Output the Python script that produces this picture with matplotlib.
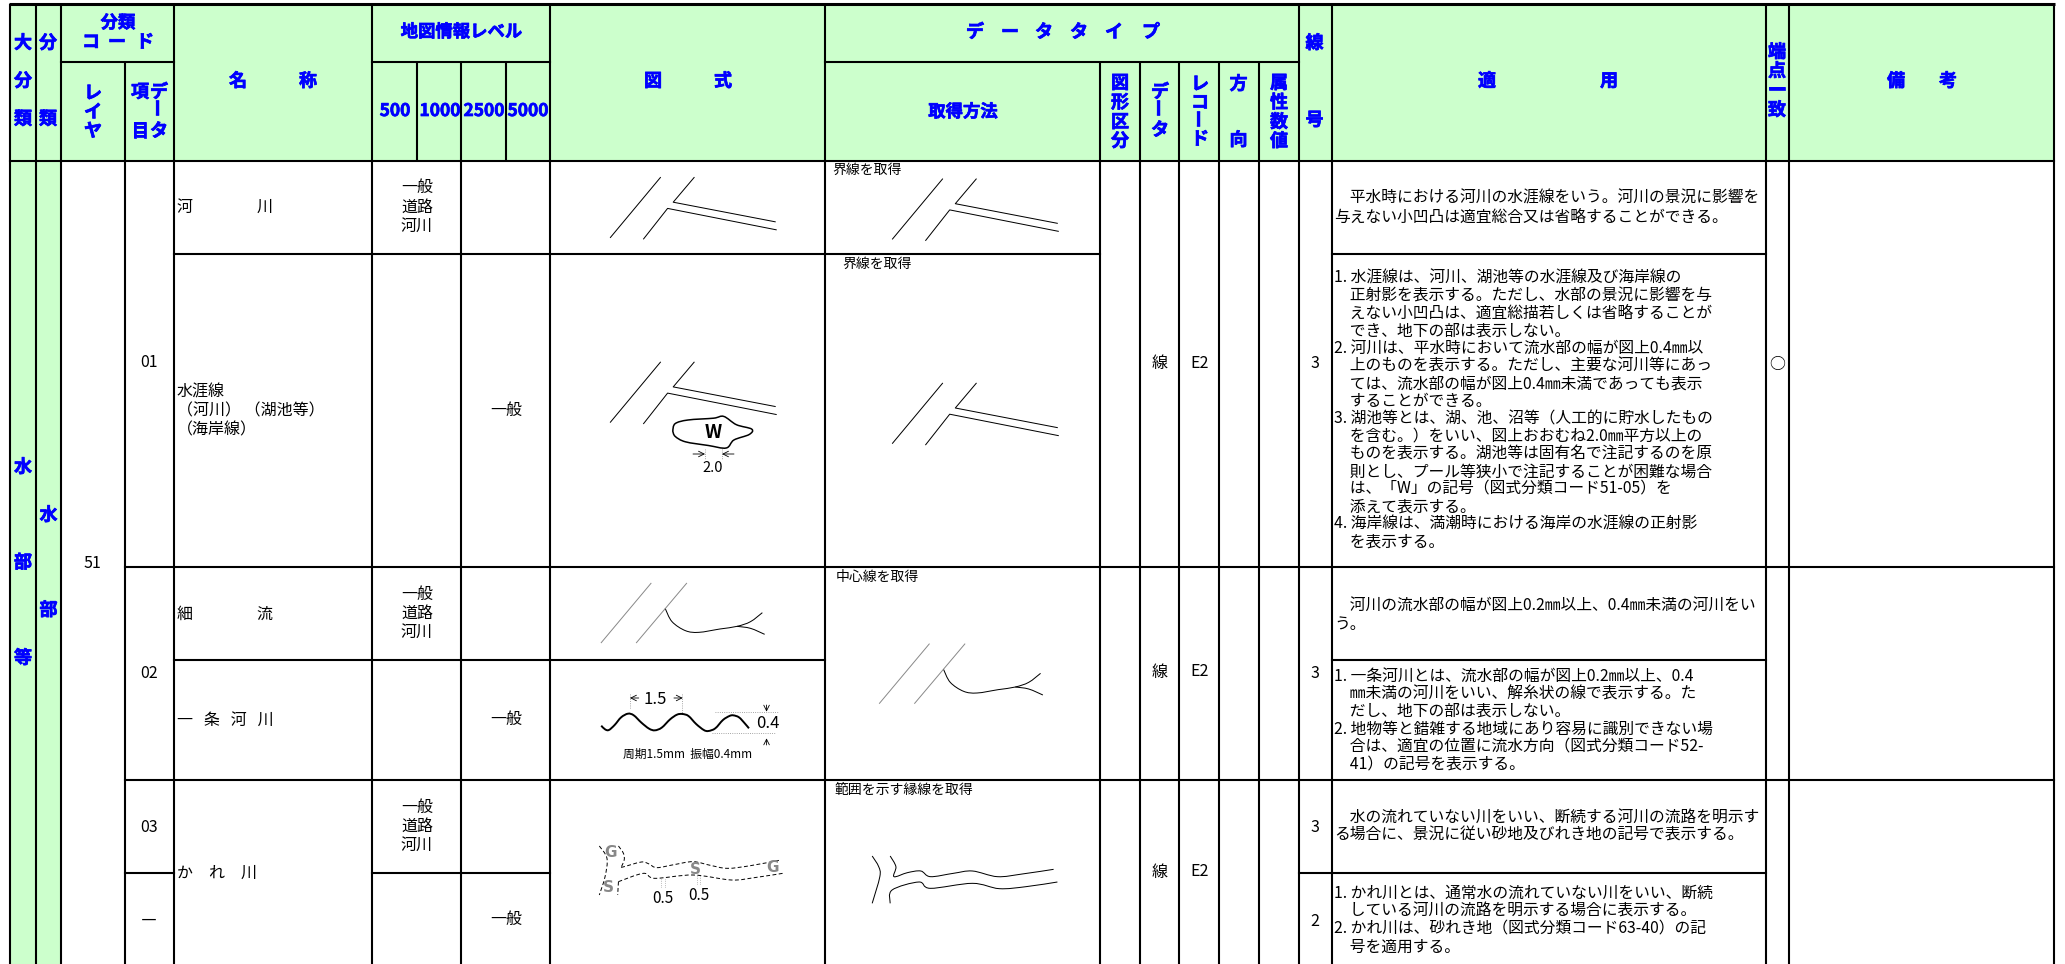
import matplotlib
matplotlib.use("Agg")
import matplotlib.pyplot as plt
import matplotlib.patheffects as pe
from matplotlib.patches import Rectangle, PathPatch
from matplotlib.path import Path
import numpy as np

plt.rcParams['font.family'] = ['Noto Sans CJK JP', 'DejaVu Sans']

W, H = 2065, 964
GREEN = '#CCFFCC'
BLUE = '#0000FF'
GRAY = '#888888'

# grid: (position, start, end)
v_lines = [(10, 4, 964), (36, 4, 964), (61, 4, 964), (125, 62, 964), (174, 4, 964),
           (372, 4, 964), (416.5, 62, 161), (461, 62, 964), (506, 62, 161), (550, 4, 964),
           (825, 4, 964), (1100, 62, 964), (1140, 62, 964), (1179, 62, 964), (1219, 62, 964),
           (1259, 62, 964), (1299, 4, 964), (1332, 4, 964), (1766, 4, 964), (1788.5, 4, 964),
           (2054, 4, 964)]
h_lines = [(62, 61, 174), (62, 372, 550), (62, 825, 1299), (161, 10, 2054),
           (253.5, 174, 1100), (253.5, 1332, 1766),
           (567, 125, 2054), (660, 174, 825), (660, 1332, 1766),
           (780, 125, 2054), (873, 125, 174), (873, 372, 550), (873, 1299, 1766)]

# header labels, one glyph group at a time
head_text = ['大', '分', '類', '分', '類', '分類', 'コ', 'ー', 'ド', 'レ', 'イ', 'ヤ', '項', '目', 'デ', 'タ',
             '名', '称', '地図情報レベル', '500', '1000', '2500', '5000', '図', '式',
             'デ', 'ー', 'タ', 'タ', 'イ', 'プ', '取得方法',
             '図', '形', '区', '分', 'デ', 'タ', 'レ', 'コ', 'ド', '方', '向',
             '属', '性', '数', '値', '線', '号', '適', '用', '端', '点', '一', '致', '備', '考',
             '水', '部', '等', '水', '部']
head_x = [23, 23, 23, 48, 48, 118, 91, 117, 145, 93, 93, 93, 140, 140, 159, 159,
          238, 308, 461.5, 395, 440, 484, 528, 653, 723,
          975, 1010, 1044, 1079, 1114, 1151, 963,
          1120, 1120, 1120, 1120, 1160, 1160, 1200, 1200, 1200, 1238.5, 1238.5,
          1279, 1279, 1279, 1279, 1314.5, 1314.5, 1487, 1609, 1777, 1777, 1777, 1777, 1896, 1948,
          23, 23, 23, 48.5, 48.5]
head_y = [43, 81, 119, 43, 119, 23, 42, 42, 42, 93, 112, 131, 92, 131, 92, 131,
          81, 81, 32, 111, 111, 111, 111, 81, 81,
          32, 32, 32, 32, 32, 32, 112,
          83, 102.5, 122, 141, 92, 130, 84, 102.5, 139, 84, 140,
          83, 102.5, 122, 141, 43, 120, 81, 81, 52, 71, 90, 110, 81, 81,
          467, 562.5, 658, 515, 610]
# long sound marks that stand upright in vertical headers
bar_x = [159, 1160, 1200]
bar_y = [108, 108, 119]

# body labels
body_text = ['51', '01', '02', '03', '―', '水涯線', '（河川） （湖池等）', '（海岸線）',
             '河　　　　川', '細　　　　流', '一   条   河   川', 'か　れ　川',
             '一般', '一般', '一般', '線', 'E2', '3', '線', 'E2', '3', '線', 'E2', '3', '2', '○']
body_x = [92.5, 149, 149, 149, 149, None, None, None,
          None, None, None, None,
          506.5, 506.5, 506.5, 1160, 1200, 1314.5, 1160, 1200, 1314.5, 1160, 1200, 1314.5, 1314.5, 1777]
body_y = [563.5, 362.5, 674, 827.5, 921, 392.5, 411, 430,
          207, 614, 720, 873,
          410, 719, 919, 363, 363, 363.5, 672, 672, 673, 872, 872, 828, 922, 364]

levels = ['一般', '道路', '河川']
level_y = [[187, 207, 226.5], [594, 613, 632], [807, 826, 845]]

method_text = ['界線を取得', '界線を取得', '中心線を取得', '範囲を示す縁線を取得']
method_x = [832, 842, 836, 835]
method_y = [170, 264, 577, 790]

note_1 = ['　平水時における河川の水涯線をいう。河川の景況に影響を',
          '与えない小凹凸は適宜総合又は省略することができる。']
note_2 = ['1. 水涯線は、河川、湖池等の水涯線及び海岸線の',
          '　正射影を表示する。ただし、水部の景況に影響を与',
          '　えない小凹凸は、適宜総描若しくは省略することが',
          '　でき、地下の部は表示しない。',
          '2. 河川は、平水時において流水部の幅が図上0.4㎜以',
          '　上のものを表示する。ただし、主要な河川等にあっ',
          '　ては、流水部の幅が図上0.4㎜未満であっても表示',
          '　することができる。',
          '3. 湖池等とは、湖、池、沼等（人工的に貯水したもの',
          '　を含む。）をいい、図上おおむね2.0㎜平方以上の',
          '　ものを表示する。湖池等は固有名で注記するのを原',
          '　則とし、プール等狭小で注記することが困難な場合',
          '　は、「W」の記号（図式分類コード51-05）を',
          '　添えて表示する。',
          '4. 海岸線は、満潮時における海岸の水涯線の正射影',
          '　を表示する。']
note_3 = ['　河川の流水部の幅が図上0.2㎜以上、0.4㎜未満の河川をい',
          'う。']
note_4 = ['1. 一条河川とは、流水部の幅が図上0.2㎜以上、0.4',
          '　㎜未満の河川をいい、解糸状の線で表示する。た',
          '　だし、地下の部は表示しない。',
          '2. 地物等と錯雑する地域にあり容易に識別できない場',
          '　合は、適宜の位置に流水方向（図式分類コード52-',
          '　41）の記号を表示する。']
note_5 = ['　水の流れていない川をいい、断続する河川の流路を明示す',
          'る場合に、景況に従い砂地及びれき地の記号で表示する。']
note_6 = ['1. かれ川とは、通常水の流れていない川をいい、断続',
          '　している河川の流路を明示する場合に表示する。',
          '2. かれ川は、砂れき地（図式分類コード63-40）の記',
          '　号を適用する。']
notes = [note_1, note_2, note_3, note_4, note_5, note_6]
note_top = [198.5, 278.5, 605.5, 676, 817, 893]
note_step = [18.5, 17.57, 18.5, 17.7, 18, 18]

road_1_x, road_1_y = [0, 50], [60, 0]
road_2_x, road_2_y = [33.2, 57.2, 165.8], [61.4, 30.9, 52.3]
road_3_x, road_3_y = [83.7, 62.8, 164.8], [0, 24.7, 44.3]
road_x0 = [610.4, 892.5, 610.4, 892.5]
road_y0 = [177.5, 179, 362.2, 383.3]

pond_x = [672.7, 675.2, 688, 713.5, 723.7, 736.4, 751.7, 749.2, 733.9, 726.2, 708.4, 685.4, 675.2, 672.7]
pond_y = [430.9, 423.6, 420, 418.2, 416.4, 424.7, 429.1, 434.5, 440, 448, 445.5, 441.8, 436.4, 430.9]

# these come from the lower crop (x0=540, y0=560, 2.613 x 3)
stream_g1_x, stream_g1_y = [160, 290], [248, 70]
stream_g2_x, stream_g2_y = [252, 383], [248, 70]
stream_x = [327, 345, 380, 415, 470, 515, 550, 581]
stream_y = [145, 185, 212, 217, 207, 199, 185, 158]
branch_x = [515, 550, 587]
branch_y = [199, 205, 223]

wave_x = [160, 170, 180, 195, 212, 230, 245, 265, 285, 300, 318, 340, 358, 372, 388, 408, 428, 440, 458, 478, 495, 505, 520, 535, 546]
wave_y = [497, 508, 510, 495, 472, 461, 466, 488, 506, 511, 503, 478, 464, 462, 468, 492, 510, 513, 505, 480, 468, 466, 472, 490, 505]

dash_top_x = [212, 220, 265, 285, 305, 350, 400, 445, 490, 550, 625]
dash_top_y = [922, 920, 906, 912, 923, 914, 905, 916, 925, 917, 901]
dash_stub_x = [205, 218, 220, 212]
dash_stub_y = [858, 880, 900, 922]
dash_low_x = [205, 270, 300, 400, 500, 560, 640]
dash_low_y = [965, 940, 955, 945, 960, 953, 939]
dash_left_x = [155, 175, 170, 155]
dash_left_y = [858, 895, 950, 1005]
dash_end_x = [205, 203]
dash_end_y = [965, 1005]

dry_left_x = [868, 885, 888, 868]
dry_left_y = [888, 920, 950, 1030]
dry_top_x = [915, 930, 925, 960, 995, 1020, 1080, 1130, 1195, 1260, 1342]
dry_top_y = [888, 920, 950, 938, 933, 950, 940, 933, 950, 942, 928]
dry_low_x = [915, 920, 990, 1020, 1130, 1200, 1270, 1352]
dry_low_y = [1030, 990, 966, 985, 970, 986, 980, 966]


def crop(xs, ys):
    return np.array(xs) / 2.613 + 540, np.array(ys) / 3 + 560


def thin(xs, ys, color='black', lw=0.72, ls='-'):
    ax.plot(xs, ys, color=color, lw=lw, ls=ls, solid_joinstyle='round')


def curve(xs, ys, color='black', lw=0.72, ls='-'):
    # bezier path through the read points so hand drawn lines stay round
    p = np.column_stack([xs, ys]).astype(float)
    verts, codes = [p[0]], [Path.MOVETO]
    for i in range(len(p) - 1):
        a = p[max(i - 1, 0)]
        d = p[min(i + 2, len(p) - 1)]
        verts += [p[i] + (p[i + 1] - a) / 6, p[i + 1] - (d - p[i]) / 6, p[i + 1]]
        codes += [Path.CURVE4] * 3
    ax.add_patch(PathPatch(Path(verts, codes), fc='none', ec=color, lw=lw, ls=ls))


def put(s, x, y, size=11.5, ha='center', **kw):
    return ax.text(x, y, s, fontsize=size, ha=ha, va='center', color=kw.pop('color', 'black'), **kw)


def head(s, x, y, size, **kw):
    t = put(s, x, y, size=size, color=BLUE, fontweight='bold', **kw)
    t.set_path_effects([pe.withStroke(linewidth=0.5, foreground=BLUE)])


fig = plt.figure(figsize=(W / 100, H / 100), dpi=100)
ax = fig.add_axes([0, 0, 1, 1])
ax.set_xlim(0, W)
ax.set_ylim(H, 0)
ax.axis('off')

ax.add_patch(Rectangle((10, 4), 2044, 157, fc=GREEN, ec='none', zorder=0))
ax.add_patch(Rectangle((10, 161), 51, H - 161, fc=GREEN, ec='none', zorder=0))

for x, a, b in v_lines:
    ax.plot([x, x], [a, b], color='black', lw=1.5, solid_capstyle='butt')
for y, a, b in h_lines:
    ax.plot([a, b], [y, y], color='black', lw=1.5, solid_capstyle='projecting')
ax.plot([9, 2055], [4, 4], color='black', lw=2.2, solid_capstyle='butt')

for s, x, y in zip(head_text, head_x, head_y):
    head(s, x, y, 12.5 if len(s) > 1 else 13)
for x, y in zip(bar_x, bar_y):
    head('ー', x, y, 13, rotation=90)

for s, x, y in zip(body_text, body_x, body_y):
    if x is None:
        put(s, 177, y, ha='left')
    else:
        put(s, x, y)

for ys in level_y:
    for s, y in zip(levels, ys):
        put(s, 417, y)

for s, x, y in zip(method_text, method_x, method_y):
    put(s, x, y, size=10, ha='left')

for lines, top, step in zip(notes, note_top, note_step):
    for i, s in enumerate(lines):
        put(s, 1334.5, top + i * step, size=11.35, ha='left')

# road symbols
for x0, y0 in zip(road_x0, road_y0):
    thin(np.array(road_1_x) + x0, np.array(road_1_y) + y0)
    thin(np.array(road_2_x) + x0, np.array(road_2_y) + y0)
    thin(np.array(road_3_x) + x0, np.array(road_3_y) + y0)

# pond with W
curve(pond_x, pond_y, lw=1.1)
put('W', 713.5, 432.5, size=13.5, fontweight='bold')
thin([705.3, 705.3], [449, 460], color=GRAY, lw=0.6, ls=':')
thin([721.6, 721.6], [449, 460], color=GRAY, lw=0.6, ls=':')
ax.annotate('', xy=(705, 454), xytext=(693, 454), arrowprops=dict(arrowstyle='->', lw=0.6, shrinkA=0, shrinkB=0))
ax.annotate('', xy=(722, 454), xytext=(734, 454), arrowprops=dict(arrowstyle='->', lw=0.6, shrinkA=0, shrinkB=0))
put('2.0', 712.5, 468, size=10.5)

# thin stream, drawn twice; second copy sits in the method column
for dx, dy in [(0, 0), (727, 182)]:
    thin(*crop(np.array(stream_g1_x) + dx, np.array(stream_g1_y) + dy), color=GRAY, lw=0.7)
    thin(*crop(np.array(stream_g2_x) + dx, np.array(stream_g2_y) + dy), color=GRAY, lw=0.7)
    curve(*crop(np.array(stream_x) + dx, np.array(stream_y) + dy))
    curve(*crop(np.array(branch_x) + dx, np.array(branch_y) + dy))

# wave and its dimensions
curve(*crop(wave_x, wave_y), lw=1.4)
for xs, ys in [([235, 235], [403, 445]), ([372, 372], [403, 458]), ([458, 622], [457, 457]), ([450, 615], [520, 520])]:
    thin(*crop(xs, ys), color=GRAY, lw=0.6, ls=':')
for a, b in [((235, 414), (258, 414)), ((373, 414), (350, 414)), ((592, 455), (592, 435)), ((592, 535), (592, 555))]:
    ax.annotate('', xy=crop(*a), xytext=crop(*b), arrowprops=dict(arrowstyle='->', lw=0.6, shrinkA=0, shrinkB=0))
put('1.5', *crop(301, 418), size=12)
put('0.4', *crop(595, 492), size=12)
put('周期1.5mm  振幅0.4mm', *crop(385, 583), size=8.5)

# dry river, dashed and solid
for xs, ys in [(dash_top_x, dash_top_y), (dash_stub_x, dash_stub_y), (dash_low_x, dash_low_y),
               (dash_left_x, dash_left_y), (dash_end_x, dash_end_y)]:
    curve(*crop(xs, ys), lw=0.7, ls=(0, (4, 2.5)))
for s, x, y in [('G', 185, 877), ('S', 178, 984), ('S', 405, 928), ('G', 607, 924)]:
    put(s, *crop(x, y), size=11, color=GRAY, fontweight='bold', family='DejaVu Sans')
for xs, ys in [([316, 316], [958, 985]), ([326, 326], [958, 985]), ([410, 410], [948, 975]), ([418, 418], [948, 975])]:
    thin(*crop(xs, ys), color=GRAY, lw=0.5, ls=':')
put('0.5', *crop(320, 1016), size=11)
put('0.5', *crop(416, 1005), size=11)
for xs, ys in [(dry_left_x, dry_left_y), (dry_top_x, dry_top_y), (dry_low_x, dry_low_y)]:
    curve(*crop(xs, ys))

fig.savefig('out.png', dpi=100)
